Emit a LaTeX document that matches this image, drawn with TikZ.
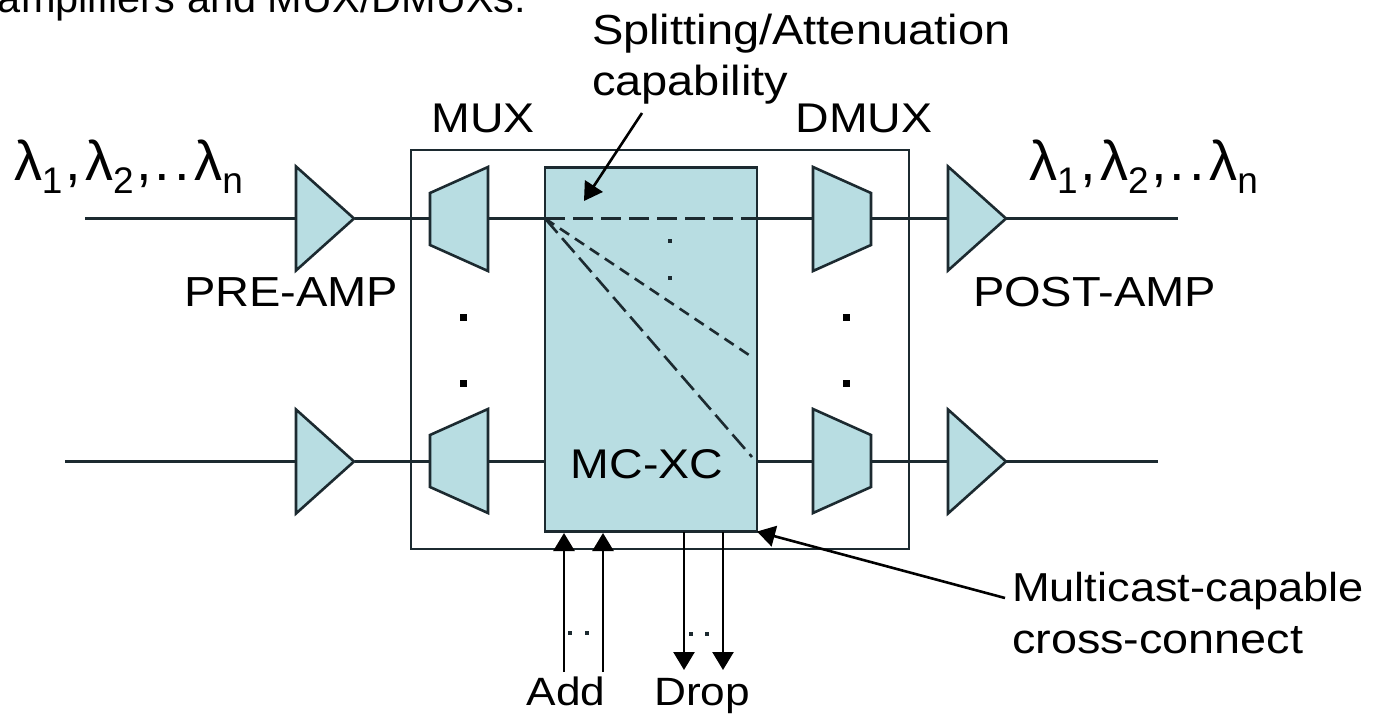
\documentclass[tikz,border=0pt]{standalone}
\usepackage{graphicx}
\usepackage{fontspec}
\setmainfont{Liberation Sans}
\usetikzlibrary{arrows.meta}
\definecolor{panel}{HTML}{B8DDE2}
\definecolor{ink}{HTML}{1C2A30}
\newcommand{\wtext}[1]{\scalebox{1.12}[1]{#1}}
\tikzset{
  x=1pt,y=-1pt,
  every node/.style={inner sep=0pt,outer sep=0pt,text=black},
  wire/.style={draw=ink,line width=2.6pt},
  shapeline/.style={draw=ink,fill=panel,line width=2.6pt,line join=miter},
  ampbox/.style={minimum width=58pt,minimum height=104pt},
  muxbox/.style={minimum width=58pt,minimum height=104pt},
  lab/.style={anchor=base west,font=\fontsize{42}{42}\selectfont},
  labm/.style={anchor=base west,font=\fontsize{40.4}{41}\selectfont},
  labn/.style={anchor=base west,font=\fontsize{41.8}{42}\selectfont},
  labc/.style={anchor=base,font=\fontsize{41.5}{42}\selectfont},
  labs/.style={anchor=base,font=\fontsize{39.5}{40}\selectfont},
  lam/.style={anchor=base west,font=\fontsize{56}{56}\selectfont},
  tip/.style={-{Triangle[length=18pt,width=21pt]},draw=black,line width=2.6pt},
  fd/.style={draw=ink,line width=2.6pt,dash pattern=on 20pt off 8pt},
  sd/.style={draw=ink,line width=2.6pt,dash pattern=on 11pt off 7pt},
  ld/.style={draw=ink,line width=2.6pt,dash pattern=on 19pt off 7pt},
}
\newcommand{\ampnode}[3]{%
  \node[ampbox] (#1) at (#2,#3) {};
  \draw[shapeline] (#1.north west) -- (#1.east) -- (#1.south west) -- cycle;}
\newcommand{\muxnode}[3]{%
  \node[muxbox] (#1) at (#2,#3) {};
  \draw[shapeline] (#1.north east) -- (#1.south east) -- ([yshift=26pt]#1.south west) -- ([yshift=-26pt]#1.north west) -- cycle;}
\newcommand{\dmuxnode}[3]{%
  \node[muxbox] (#1) at (#2,#3) {};
  \draw[shapeline] (#1.north west) -- (#1.south west) -- ([yshift=26pt]#1.south east) -- ([yshift=-26pt]#1.north east) -- cycle;}
\newcommand{\dotbig}[2]{\fill[black] (#1-3.5,#2-3.5) rectangle (#1+3.5,#2+3.5);}
\newcommand{\dotsmall}[2]{\fill[ink] (#1-2,#2-2) rectangle (#1+2,#2+2);}
\newcommand{\subt}[1]{\raisebox{-13pt}{\fontsize{37}{37}\selectfont #1}}
\newcommand{\lamtext}{λ\subt{1}\kern3pt,\kern4pt λ\subt{2}\kern3pt,\kern2pt.\kern5pt.\kern4pt λ\subt{n}}
\begin{document}
\begin{tikzpicture}
\useasboundingbox (0,0) rectangle (1381,713);
\clip (0,0) rectangle (1381,713);
\fill[white] (0,0) rectangle (1381,713);
% clipped title line
\node[lab,font=\fontsize{41.5}{42}\selectfont] (title) at (-2,12) {amplifiers and MUX/DMUXs:};
% outer frame and cross-connect
\node[draw=ink,line width=2.6pt,minimum width=498pt,minimum height=399pt] (frame) at (660,349.5) {};
\node[shapeline,minimum width=212pt,minimum height=364pt] (xc) at (651,349.5) {};
% free wire ends
\coordinate (inA) at (85,218.5);
\coordinate (inB) at (65,461.5);
\coordinate (outA) at (1178,218.5);
\coordinate (outB) at (1158,461.5);
\coordinate (xcLA) at (545,218.5);
\coordinate (xcRA) at (757,218.5);
\coordinate (xcLB) at (545,461.5);
\coordinate (xcRB) at (757,461.5);
\coordinate (xcS) at (752,357);
\coordinate (xcD) at (752,457);
% wires (under the blocks)
\draw[wire] (inA) -- (296,218.5) (355,218.5) -- (430,218.5) (488,218.5) -- (xcLA);
\draw[wire] (xcRA) -- (813,218.5) (871,218.5) -- (948,218.5) (1005,218.5) -- (outA);
\draw[wire] (inB) -- (296,461.5) (355,461.5) -- (430,461.5) (488,461.5) -- (xcLB);
\draw[wire] (xcRB) -- (813,461.5) (871,461.5) -- (948,461.5) (1005,461.5) -- (outB);
% blocks
\ampnode{preA}{325}{218.5}
\ampnode{preB}{325}{461.5}
\ampnode{postA}{977}{218.5}
\ampnode{postB}{977}{461.5}
\muxnode{muxA}{459}{219}
\muxnode{muxB}{459}{461}
\dmuxnode{dmuxA}{842}{219}
\dmuxnode{dmuxB}{842}{461}
% paths through the cross-connect
\draw[fd] (xcLA) -- (xcRA);
\draw[sd] (xcLA) -- (xcS);
\draw[ld] (xcLA) -- (xcD);
% dots
\dotbig{463}{317}\dotbig{463}{383}\dotbig{846}{317}\dotbig{846}{383}
\dotsmall{670}{241}\dotsmall{670}{278}
\dotsmall{570}{633}\dotsmall{587}{633}\dotsmall{691}{634}\dotsmall{707}{634}
% labels
\node[lam] (lamL) at (14,180) {\lamtext};
\node[lam] (lamR) at (1029,180) {\lamtext};
\node[labc] (mux) at (483,132) {\wtext{MUX}};
\node[labc] (dmux) at (864,132) {\wtext{DMUX}};
\node[lab] (pre) at (184,306) {\wtext{PRE-AMP}};
\node[lab] (post) at (973,306) {\wtext{POST-AMP}};
\node[lab] (split) at (592,44) {\wtext{Splitting/Attenuation}};
\node[lab] (cap) at (592,95) {\wtext{capability}};
\node[labm] (mcast) at (1012,601) {\wtext{Multicast-capable}};
\node[labn] (cross) at (1012,653) {\wtext{cross-connect}};
\node[labs] (add) at (566,705) {\wtext{Add}};
\node[labs] (drop) at (702,705) {\wtext{Drop}};
\node[labc] (mcxc) at (647,478) {\wtext{MC-XC}};
% arrows
\coordinate (capS) at (642,113);
\coordinate (capT) at (584,201);
\draw[tip] (capS) -- (capT);
\coordinate (mcS) at (1005,598);
\draw[tip] (mcS) -- (xc.south east);
\coordinate (a1) at (564,672);\coordinate (a1t) at (564,533);
\coordinate (a2) at (603,672);\coordinate (a2t) at (603,533);
\coordinate (d1) at (684,532);\coordinate (d1t) at (684,670);
\coordinate (d2) at (723,532);\coordinate (d2t) at (723,670);
\draw[tip] (a1) -- (a1t);
\draw[tip] (a2) -- (a2t);
\draw[tip] (d1) -- (d1t);
\draw[tip] (d2) -- (d2t);
\end{tikzpicture}
\end{document}
